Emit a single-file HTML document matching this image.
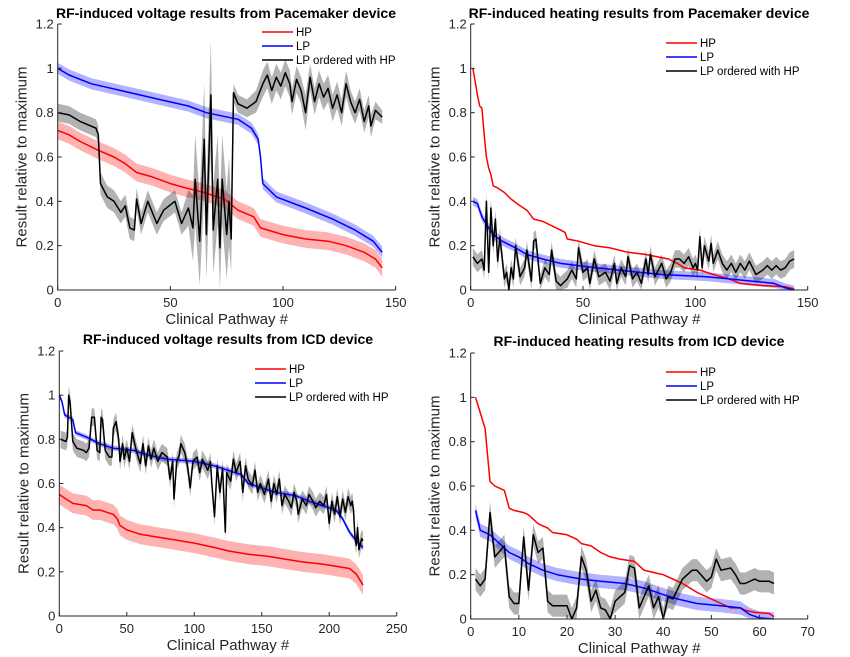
<!DOCTYPE html>
<html><head><meta charset="utf-8">
<style>
html,body{margin:0;padding:0;background:#fff;}
svg{display:block;font-family:"Liberation Sans",Arial,sans-serif;}
</style></head>
<body>
<svg id="fig" width="850" height="657" viewBox="0 0 850 657"></svg>
<script>
// ---- Top-left: voltage, pacemaker ----
const tlHPx=[0,5,10,18,25,30,35,42,50,57,65,74,80,87,90,100,110,120,128,136,141,144];
const tlHPy=[0.72,0.70,0.67,0.63,0.60,0.57,0.53,0.51,0.48,0.46,0.44,0.41,0.36,0.33,0.28,0.25,0.23,0.22,0.20,0.17,0.14,0.10];
const tlLPx=[0,5,15,28,45,58,66,80,86,89,90,91,97,110,122,132,140,144];
const tlLPy=[1.0,0.97,0.93,0.90,0.86,0.83,0.80,0.77,0.73,0.68,0.60,0.48,0.42,0.37,0.32,0.27,0.22,0.17];
const tlKx=[0,5,10,17,18,19,22,25,28,30,32,34,35,37,40,44,47,52,55,58,60,61,63,65,66,68,69,71,72,73,75,76,77,78,80,84,88,91,93,95,97,99,101,103,104,106,108,110,112,114,116,118,120,122,124,126,128,130,132,134,136,138,139,141,144];
const tlKy=[0.80,0.79,0.76,0.73,0.70,0.48,0.42,0.40,0.35,0.38,0.28,0.27,0.41,0.30,0.40,0.30,0.36,0.40,0.30,0.37,0.28,0.50,0.22,0.68,0.25,0.88,0.27,0.50,0.19,0.50,0.25,0.40,0.23,0.89,0.84,0.82,0.85,0.93,0.97,0.90,0.96,0.92,0.98,0.93,0.85,0.95,0.90,0.80,0.96,0.85,0.93,0.87,0.91,0.82,0.88,0.80,0.93,0.85,0.80,0.86,0.76,0.83,0.74,0.81,0.78];
const tlKerr=[0.04,0.04,0.04,0.04,0.04,0.05,0.05,0.05,0.05,0.05,0.05,0.05,0.05,0.05,0.05,0.05,0.05,0.05,0.05,0.08,0.15,0.2,0.2,0.25,0.2,0.25,0.2,0.2,0.2,0.2,0.2,0.2,0.15,0.04,0.04,0.04,0.05,0.06,0.06,0.06,0.06,0.06,0.06,0.06,0.06,0.06,0.06,0.08,0.06,0.06,0.06,0.06,0.06,0.06,0.06,0.06,0.06,0.05,0.05,0.05,0.05,0.05,0.05,0.04,0.03];
// ---- Top-right: heating, pacemaker ----
const trHPx=[1,3,4,5,6,7,8,9,10,12,15,18,22,25,28,32,36,40,42,43,48,55,62,70,78,88,92,95,102,108,115,120,130,140,144];
const trHPy=[1.0,0.88,0.83,0.82,0.70,0.60,0.55,0.52,0.47,0.46,0.44,0.41,0.38,0.36,0.32,0.31,0.29,0.27,0.26,0.23,0.22,0.20,0.19,0.17,0.16,0.14,0.12,0.10,0.09,0.07,0.05,0.03,0.02,0.015,0.005];
const trLPx=[1,3,5,8,10,14,20,25,32,40,48,56,66,75,85,95,105,115,125,135,140,144];
const trLPy=[0.40,0.39,0.33,0.28,0.25,0.22,0.19,0.16,0.14,0.12,0.11,0.10,0.09,0.08,0.07,0.065,0.06,0.05,0.04,0.03,0.01,0.0];
const trKx=[1,3,5,6,7,8,9,10,11,12,13,15,16,17,18,19,20,22,24,25,27,28,29,31,33,35,36,38,40,43,45,47,48,50,52,53,55,57,60,62,64,65,67,69,70,72,74,76,78,79,80,82,85,87,89,91,93,95,97,99,100,101,102,103,104,106,107,108,110,112,114,116,118,120,122,124,127,130,132,134,136,138,140,142,144];
const trKy=[0.15,0.12,0.14,0.09,0.40,0.08,0.37,0.20,0.32,0.13,0.24,0.05,0.08,0.0,0.10,0.05,0.20,0.06,0.10,0.18,0.04,0.22,0.23,0.03,0.10,0.07,0.18,0.04,0.02,0.05,0.09,0.05,0.19,0.08,0.10,0.03,0.14,0.06,0.08,0.04,0.12,0.03,0.10,0.06,0.15,0.05,0.08,0.03,0.14,0.07,0.16,0.06,0.12,0.05,0.08,0.14,0.14,0.12,0.15,0.10,0.12,0.09,0.24,0.10,0.20,0.13,0.21,0.12,0.18,0.12,0.09,0.12,0.08,0.12,0.09,0.13,0.07,0.09,0.11,0.09,0.11,0.09,0.10,0.13,0.14];
// ---- Bottom-left: voltage, ICD ----
const blHPx=[0,5,10,20,25,30,35,40,43,45,50,60,70,85,100,115,125,140,155,165,180,195,205,215,220,223,225];
const blHPy=[0.55,0.53,0.51,0.50,0.48,0.48,0.47,0.46,0.44,0.41,0.39,0.37,0.36,0.345,0.33,0.31,0.295,0.28,0.27,0.26,0.245,0.235,0.225,0.215,0.19,0.16,0.14];
const blLPx=[0,2,4,10,12,20,30,40,55,65,80,100,115,125,135,140,150,160,175,185,195,205,210,215,220,225];
const blLPy=[1.0,0.97,0.91,0.89,0.83,0.81,0.78,0.76,0.75,0.73,0.71,0.70,0.68,0.66,0.64,0.60,0.58,0.56,0.545,0.52,0.50,0.48,0.44,0.38,0.34,0.31];
const blKx=[1,5,6,7,8,10,13,18,20,22,24,26,28,30,31,32,34,37,39,40,42,44,45,47,48,50,52,54,57,60,62,64,66,68,70,73,76,80,82,84,85,87,89,90,93,95,97,99,102,104,106,110,112,113,115,117,119,121,123,124,127,129,131,134,136,138,140,143,145,147,149,152,155,157,159,161,163,165,167,170,172,174,176,177,180,183,185,188,190,193,196,198,200,202,204,206,208,210,212,214,216,217,218,219,220,221,222,224,225];
const blKy=[0.80,0.79,0.81,1.0,0.97,0.79,0.76,0.75,0.74,0.76,0.90,0.90,0.75,0.74,0.90,0.89,0.75,0.72,0.72,0.85,0.88,0.80,0.70,0.78,0.71,0.76,0.70,0.83,0.75,0.69,0.78,0.68,0.77,0.71,0.76,0.70,0.74,0.72,0.62,0.70,0.53,0.70,0.73,0.78,0.74,0.68,0.58,0.70,0.72,0.65,0.71,0.66,0.70,0.60,0.45,0.68,0.56,0.67,0.38,0.65,0.61,0.71,0.65,0.70,0.56,0.68,0.62,0.59,0.66,0.56,0.60,0.55,0.62,0.52,0.60,0.55,0.62,0.50,0.55,0.52,0.49,0.56,0.52,0.46,0.53,0.50,0.55,0.52,0.49,0.52,0.50,0.55,0.42,0.52,0.46,0.54,0.45,0.53,0.47,0.54,0.50,0.52,0.48,0.36,0.32,0.40,0.30,0.35,0.34];
// ---- Bottom-right: heating, ICD ----
const brHPx=[1,2,3,4,5,6,7,8,9,11,12,14,16,17,20,22,23,25,27,29,31,34,36,38,40,42,44,47,50,52,54,56,57,59,62,63];
const brHPy=[1.0,0.93,0.86,0.62,0.60,0.59,0.58,0.50,0.49,0.48,0.47,0.43,0.41,0.39,0.38,0.36,0.34,0.33,0.30,0.28,0.27,0.26,0.22,0.21,0.20,0.18,0.16,0.12,0.09,0.07,0.05,0.05,0.04,0.03,0.025,0.01];
const brLPx=[1,2,4,6,8,10,12,15,18,23,27,32,36,40,43,47,52,56,58,60,63];
const brLPy=[0.49,0.40,0.38,0.34,0.30,0.28,0.25,0.22,0.20,0.18,0.17,0.16,0.14,0.11,0.09,0.07,0.06,0.05,0.02,0.005,0.0];
const brKx=[1,2,3,4,5,7,8,9,10,11,12,13,14,15,16,17,20,21,22,23,24,25,26,27,28,29,30,32,33,34,35,36,37,38,39,40,41,42,44,46,47,49,50,51,52,54,55,56,57,59,60,62,63];
const brKy=[0.18,0.15,0.18,0.48,0.28,0.33,0.10,0.07,0.07,0.37,0.13,0.38,0.30,0.32,0.08,0.06,0.06,0.0,0.05,0.28,0.22,0.08,0.13,0.05,0.04,0.0,0.08,0.12,0.24,0.23,0.05,0.10,0.15,0.05,0.10,0.0,0.10,0.09,0.18,0.22,0.22,0.17,0.19,0.27,0.22,0.23,0.20,0.16,0.16,0.18,0.17,0.17,0.16];
const yTicks=["0","0.2","0.4","0.6","0.8","1","1.2"];

const NS="http://www.w3.org/2000/svg";
const svg=document.getElementById('fig');
function mk(tag,attrs,parent){const e=document.createElementNS(NS,tag);for(const k in attrs)e.setAttribute(k,attrs[k]);(parent||svg).appendChild(e);return e;}

function panel(p){
  const g=mk('g',{});
  
  
  const sx=v=>p.x0+(v-p.xmin)/(p.xmax-p.xmin)*(p.x1-p.x0);
  const sy=v=>p.y0-(v/1.2)*(p.y0-p.y1);
  const band=(xs,ys,err,color,nm)=>{
    let up=[],dn=[];
    xs.forEach((x,i)=>{const e=Array.isArray(err)?err[i]:err;up.push(sx(x).toFixed(1)+','+sy(Math.max(0,ys[i]+e)).toFixed(1));dn.unshift(sx(x).toFixed(1)+','+sy(Math.max(0,ys[i]-e)).toFixed(1));});
    const b=mk('polygon',{points:up.concat(dn).join(' '),fill:color,'fill-opacity':0.3,stroke:'none'},g);
    
    
  };
  const line=(xs,ys,color,nm)=>{
    const l=mk('polyline',{points:xs.map((x,i)=>sx(x).toFixed(1)+','+sy(ys[i]).toFixed(1)).join(' '),fill:'none',stroke:color,'stroke-width':1.5,'stroke-linejoin':'round'},g);
    
    
  };
  band(p.hpx,p.hpy,p.hpe,'#ff0000','hp');
  band(p.lpx,p.lpy,p.lpe,'#0000ff','lp');
  band(p.kx,p.ky,p.ke,'#000000','lp-ordered');
  line(p.hpx,p.hpy,'#ff0000','hp');
  line(p.lpx,p.lpy,'#0000ff','lp');
  line(p.kx,p.ky,'#000000','lp-ordered');
  // axes
  const ax=mk('path',{d:`M${p.x0},${p.y1}V${p.y0}H${p.x1}`,fill:'none',stroke:'#262626','stroke-width':1},g);
  
  
  yTicks.forEach((t,i)=>{
    const y=sy(i*0.2);
    mk('line',{x1:p.x0,x2:p.x0+4,y1:y,y2:y,stroke:'#262626'},g);
    const tx=mk('text',{x:p.x0-4,y:y+4.5,'text-anchor':'end','font-size':13,fill:'#262626'},g);
    tx.textContent=t;
    
    
  });
  p.xt.forEach(v=>{
    const x=sx(v);
    mk('line',{x1:x,x2:x,y1:p.y0,y2:p.y0-4,stroke:'#262626'},g);
    const tx=mk('text',{x:x,y:p.y0+17,'text-anchor':'middle','font-size':13,fill:'#262626'},g);
    tx.textContent=String(v);
    
    
  });
  const xl=mk('text',{x:(p.x0+p.x1)/2,y:p.y0+34,'text-anchor':'middle','font-size':15,fill:'#262626'},g);
  xl.textContent='Clinical Pathway #';
  
  
  const yl=mk('text',{x:0,y:0,'text-anchor':'middle','font-size':15,fill:'#262626',transform:`translate(${p.x0-31},${(p.y0+p.y1)/2}) rotate(-90)`},g);
  yl.textContent='Result relative to maximum';
  
  
  const ti=mk('text',{x:p.tx,y:p.ty,'text-anchor':'middle','font-size':14,'font-weight':'bold',fill:'#000'},g);
  ti.textContent=p.title;
  
  
  // legend
  const lg=mk('g',{},g);
  
  
  [['HP','#ff0000'],['LP','#0000ff'],['LP ordered with HP','#000000']].forEach((e,i)=>{
    const y=p.ly+i*14;
    mk('line',{x1:p.lx,x2:p.lx+31,y1:y,y2:y,stroke:e[1],'stroke-width':1.5},lg);
    const t=mk('text',{x:p.lx+34,y:y+4,'font-size':11.5,fill:'#000'},lg);
    t.textContent=e[0];
    
    
  });
}

panel({name:'voltage-pacemaker-chart',x0:57.7,x1:395.7,y0:290,y1:24,xmin:0,xmax:150,xt:[0,50,100,150],
  hpx:tlHPx,hpy:tlHPy,hpe:0.04,lpx:tlLPx,lpy:tlLPy,lpe:0.025,kx:tlKx,ky:tlKy,ke:tlKerr,
  title:'RF-induced voltage results from Pacemaker device',tx:226,ty:18,lx:262,ly:32});
panel({name:'heating-pacemaker-chart',x0:470.7,x1:807.7,y0:290,y1:24,xmin:0,xmax:150,xt:[0,50,100,150],
  hpx:trHPx,hpy:trHPy,hpe:0.003,lpx:trLPx,lpy:trLPy,lpe:0.02,kx:trKx,ky:trKy,ke:0.04,
  title:'RF-induced heating results from Pacemaker device',tx:639,ty:18,lx:666,ly:43});
panel({name:'voltage-icd-chart',x0:59.3,x1:396.7,y0:616,y1:351,xmin:0,xmax:250,xt:[0,50,100,150,200,250],
  hpx:blHPx,hpy:blHPy,hpe:0.045,lpx:blLPx,lpy:blLPy,lpe:0.012,kx:blKx,ky:blKy,ke:0.04,
  title:'RF-induced voltage results from ICD device',tx:228,ty:344,lx:255,ly:369});
panel({name:'heating-icd-chart',x0:470.7,x1:807.7,y0:619,y1:353,xmin:0,xmax:70,xt:[0,10,20,30,40,50,60,70],
  hpx:brHPx,hpy:brHPy,hpe:0.003,lpx:brLPx,lpy:brLPy,lpe:0.03,kx:brKx,ky:brKy,ke:0.05,
  title:'RF-induced heating results from ICD device',tx:639,ty:346,lx:666,ly:372});
</script>
</body></html>
